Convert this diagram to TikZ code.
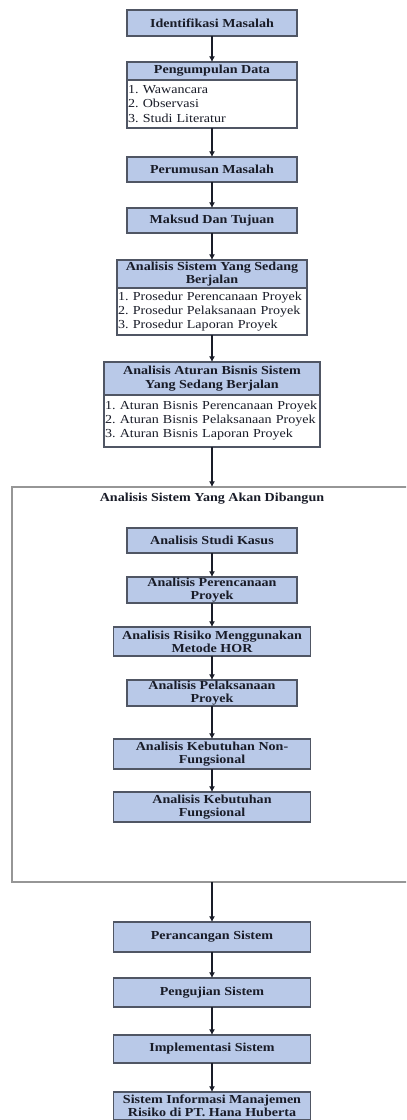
\documentclass[tikz,border=0pt]{standalone}
\usepackage{fontspec}
\setmainfont{Liberation Serif}[FakeStretch=1.15]
\usetikzlibrary{
  arrows.meta,
  positioning
}
\definecolor{biru}{RGB}{185,201,232}
\definecolor{garis}{RGB}{80,86,100}
\definecolor{bingkai}{RGB}{150,150,150}
\definecolor{teks}{RGB}{25,28,40}
\frenchspacing

\begin{document}
\begin{tikzpicture}[
kotak/.style={
draw=garis,
line width=0.9pt,
fill=biru,
text=teks,
minimum width=4.25cm,
minimum height=0.625cm,
inner xsep=1pt,
inner ysep=0.3pt,
outer sep=0pt,
align=center,
font=\fontsize{8.7}{9.5}\selectfont\bfseries
},
isi/.style={
draw=garis,
line width=0.9pt,
fill=white,
text=teks,
inner xsep=0.03cm,
inner ysep=1pt,
outer sep=0pt,
align=left,
font=\fontsize{8.7}{10}\selectfont
},
wadah/.style={
draw=bingkai,
line width=0.9pt,
outer sep=0pt,
minimum width=10cm,
minimum height=9.875cm
},
panah/.style={-{Latex[length=1.4mm,width=1.5mm]},line width=1pt,draw=teks}
]

\useasboundingbox (0,0) rectangle (10.15,-28);
\clip (0,0) rectangle (10.15,-28);

\node[kotak,minimum height=0.65cm] (identifikasi) at (5.3,-0.575) {Identifikasi Masalah};

\node[kotak,minimum height=0.45cm,below=0.65cm of identifikasi] (kumpul)
{Pengumpulan Data};
\node[isi,text width=4.19cm,minimum height=1.2cm,below=0pt of kumpul] (kumpul-isi)
{1. Wawancara\\2. Observasi\\3. Studi Literatur};

\node[kotak,below=0.725cm of kumpul-isi] (perumusan) {Perumusan Masalah};

\node[kotak,below=0.65cm of perumusan] (maksud) {Maksud Dan Tujuan};

\node[kotak,minimum width=4.75cm,minimum height=0.7cm,below=0.675cm of maksud] (berjalan)
{Analisis Sistem Yang Sedang\\Berjalan};
\node[isi,text width=4.69cm,minimum height=1.175cm,below=0pt of berjalan] (berjalan-isi)
{1. Prosedur Perencanaan Proyek\\2. Prosedur Pelaksanaan Proyek\\3. Prosedur Laporan Proyek};

\node[kotak,minimum width=5.4cm,minimum height=0.825cm,below=0.675cm of berjalan-isi] (aturan)
{Analisis Aturan Bisnis Sistem\\Yang Sedang Berjalan};
\node[isi,text width=5.34cm,minimum height=1.3cm,below=0pt of aturan] (aturan-isi)
{1. Aturan Bisnis Perencanaan Proyek\\2. Aturan Bisnis Pelaksanaan Proyek\\3. Aturan Bisnis Laporan Proyek};

\node[wadah,below=1cm of aturan-isi] (wadah) {};

\node[font=\fontsize{8.7}{9.5}\selectfont\bfseries,text=teks,inner sep=0pt,below=0.15cm of wadah.north] (judul)
{Analisis Sistem Yang Akan Dibangun};

\node[kotak,below=1.025cm of wadah.north] (studi) {Analisis Studi Kasus};

\node[kotak,minimum height=0.65cm,below=0.6cm of studi] (rencana)
{Analisis Perencanaan\\Proyek};

\node[kotak,minimum width=4.925cm,minimum height=0.725cm,below=0.6cm of rencana] (risiko)
{Analisis Risiko Menggunakan\\Metode HOR};

\node[kotak,minimum height=0.65cm,below=0.6cm of risiko] (laksana)
{Analisis Pelaksanaan\\Proyek};

\node[kotak,minimum width=4.925cm,minimum height=0.75cm,below=0.825cm of laksana] (nonfungsi)
{Analisis Kebutuhan Non-\\Fungsional};

\node[kotak,minimum width=4.925cm,minimum height=0.75cm,below=0.575cm of nonfungsi] (fungsi)
{Analisis Kebutuhan\\Fungsional};

\node[kotak,minimum width=4.925cm,minimum height=0.75cm,below=1cm of wadah] (rancang)
{Perancangan Sistem};

\node[kotak,minimum width=4.925cm,minimum height=0.725cm,below=0.65cm of rancang] (uji)
{Pengujian Sistem};

\node[kotak,minimum width=4.925cm,minimum height=0.7cm,below=0.7cm of uji] (implementasi)
{Implementasi Sistem};

\node[kotak,minimum width=4.925cm,minimum height=0.7cm,below=0.725cm of implementasi] (hasil)
{Sistem Informasi Manajemen\\Risiko di PT. Hana Huberta};

\draw[panah] (identifikasi.south)--(kumpul.north);
\draw[panah] (kumpul-isi.south)--(perumusan.north);
\draw[panah] (perumusan.south)--(maksud.north);
\draw[panah] (maksud.south)--(berjalan.north);
\draw[panah] (berjalan-isi.south)--(aturan.north);
\draw[panah] (aturan-isi.south)--(wadah.north);
\draw[panah] (studi.south)--(rencana.north);
\draw[panah] (rencana.south)--(risiko.north);
\draw[panah] (risiko.south)--(laksana.north);
\draw[panah] (laksana.south)--(nonfungsi.north);
\draw[panah] (nonfungsi.south)--(fungsi.north);
\draw[panah] (wadah.south)--(rancang.north);
\draw[panah] (rancang.south)--(uji.north);
\draw[panah] (uji.south)--(implementasi.north);
\draw[panah] (implementasi.south)--(hasil.north);

\end{tikzpicture}
\end{document}
